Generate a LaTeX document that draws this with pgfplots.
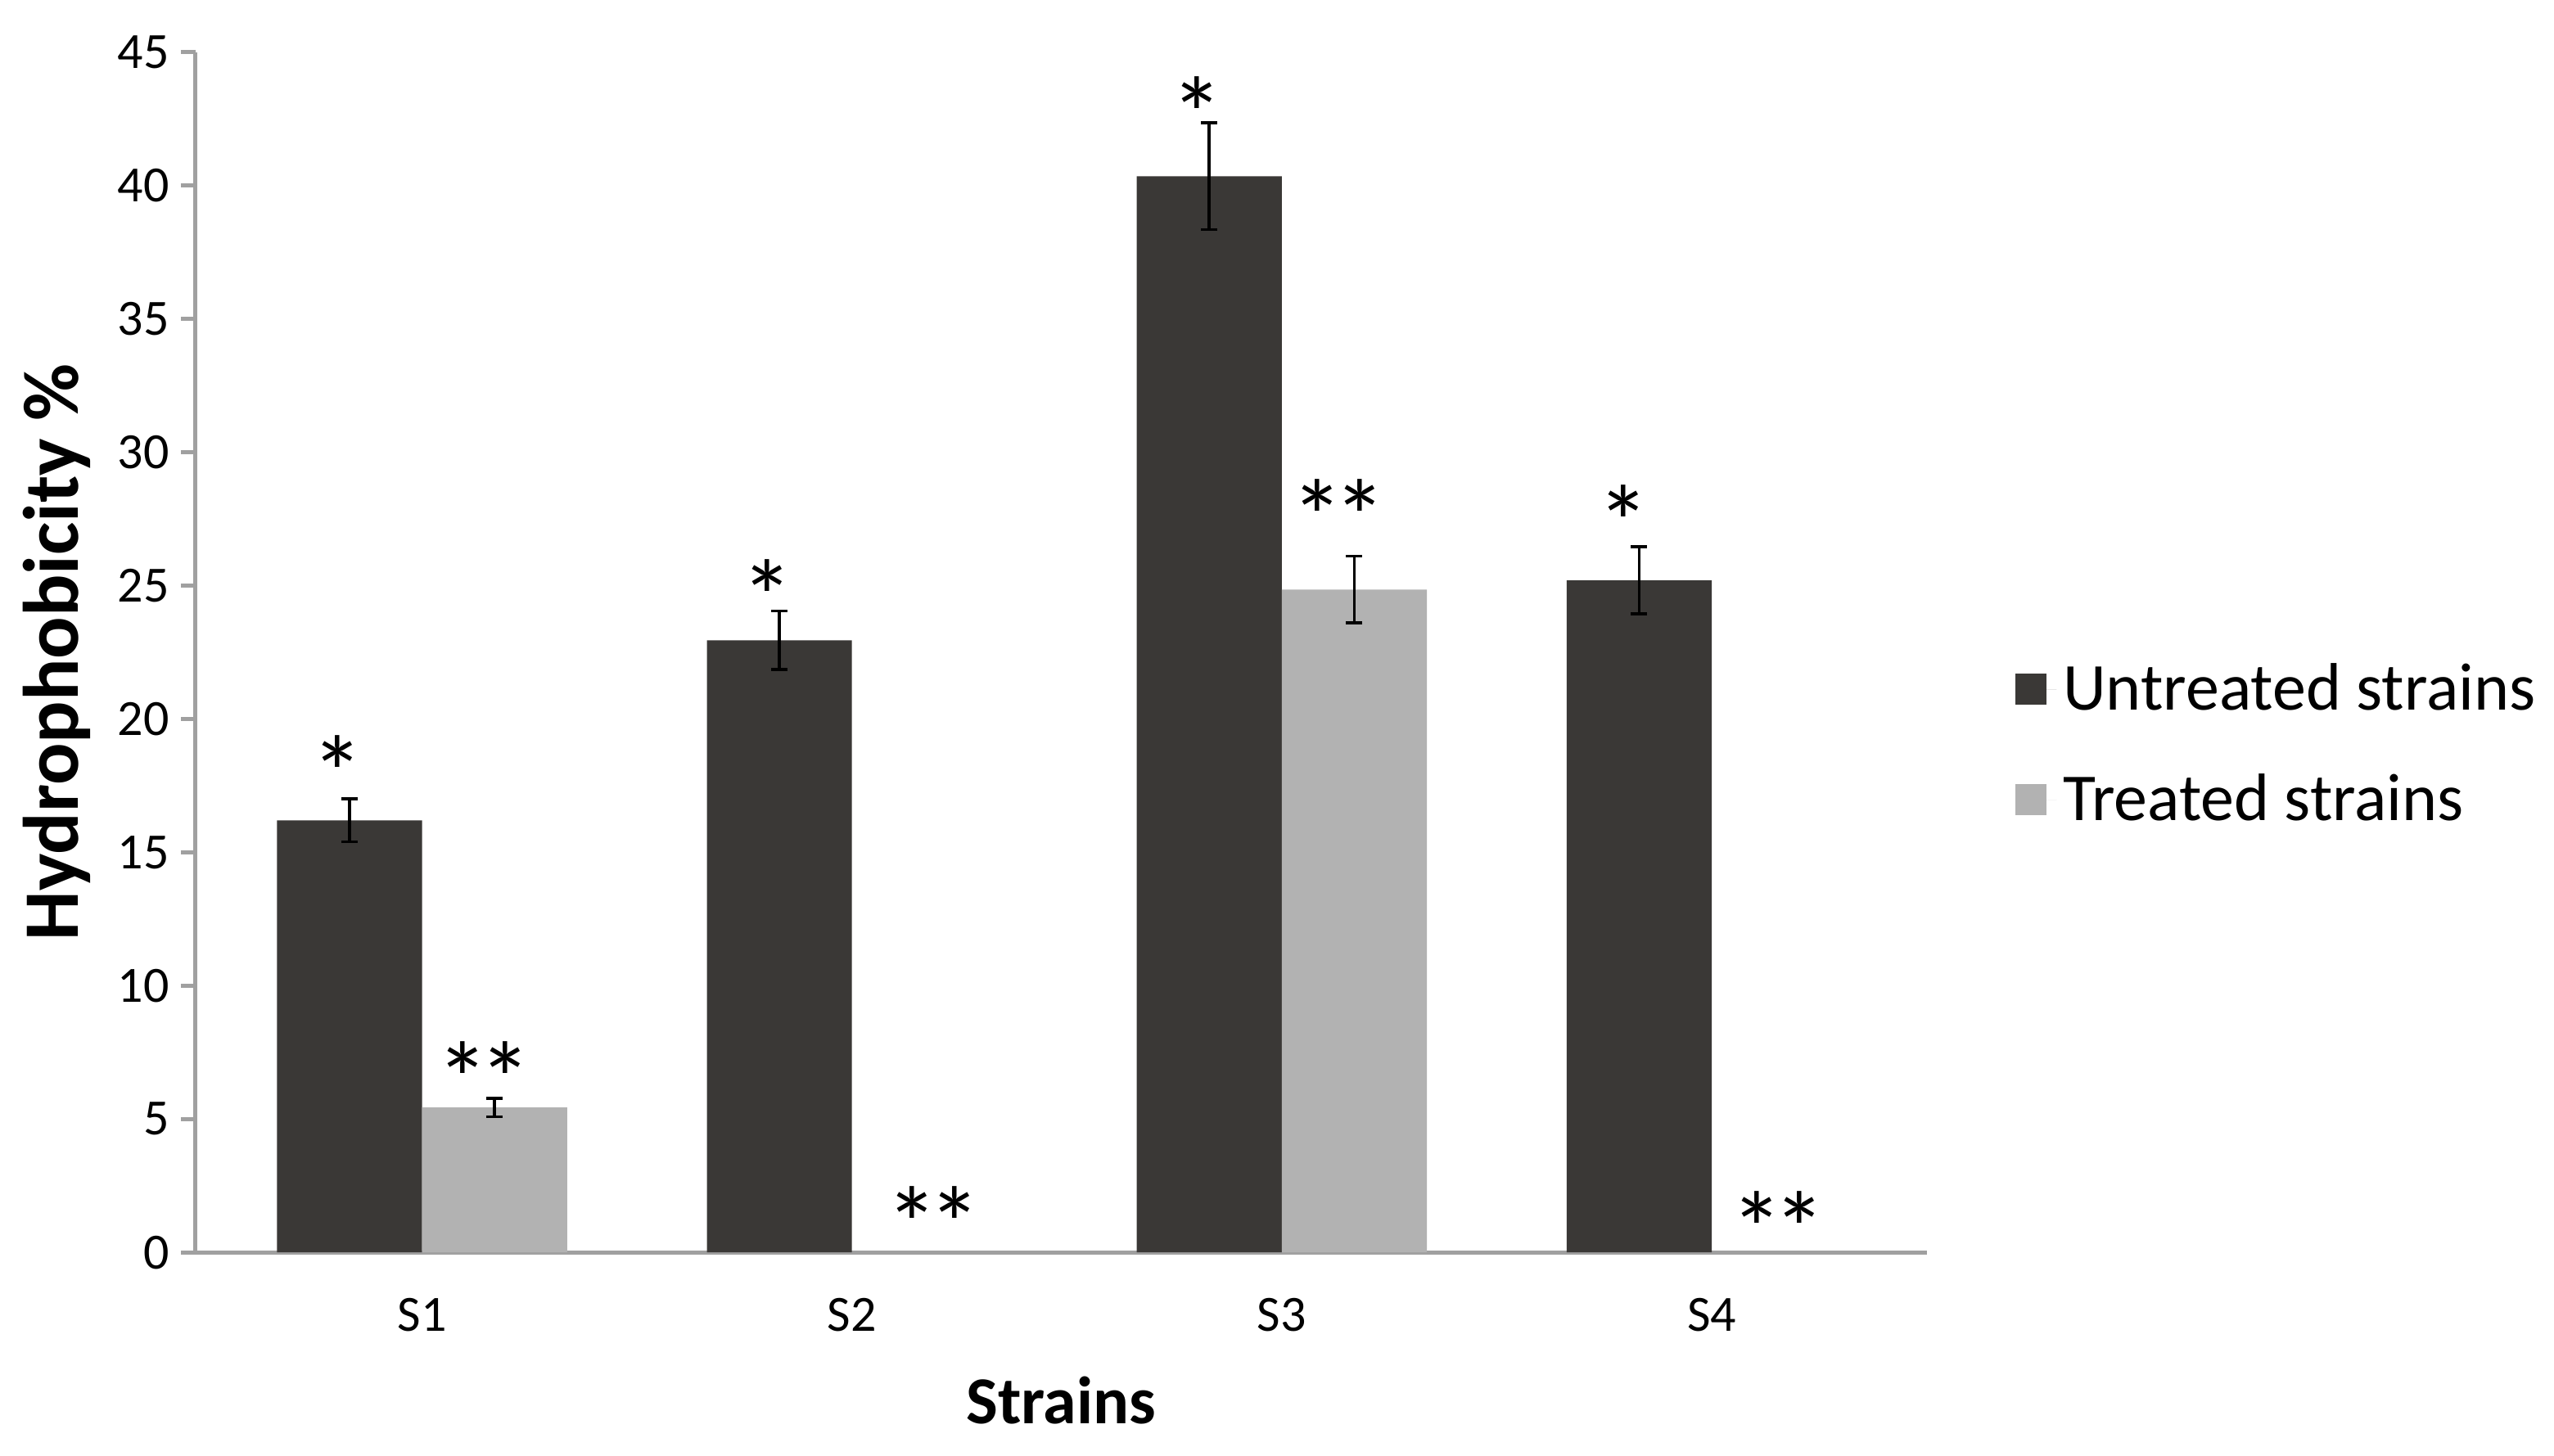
\documentclass[border=0pt]{standalone}
\usepackage{fontspec}
\setmainfont{Carlito}
\usepackage{pgfplots}
\pgfplotsset{compat=1.18}
\definecolor{darkbar}{RGB}{58,56,54}
\definecolor{lightbar}{RGB}{178,178,178}
\definecolor{axgray}{RGB}{160,160,160}
\newcommand{\dstar}{*\kern-3pt*}
\begin{document}
\begin{tikzpicture}
\useasboundingbox (0,0) rectangle (780pt,444.75pt);
\begin{axis}[
 at={(59.7pt,62.2pt)}, anchor=south west,
 scale only axis, width=528.7pt, height=366.6pt,
 xmin=-0.527, xmax=3.5, ymin=0, ymax=45,
 ybar=0pt, bar width=44.3pt,
 axis x line=bottom, axis y line=left,
 axis line style={axgray, line width=1.2pt, -},
 xtick={0,1,2,3}, xticklabels={S1,S2,S3,S4},
 x tick style={draw=none},
 ytick={0,5,...,45},
 y tick style={axgray, line width=1.2pt},
 tick align=outside, major tick length=4.5pt,
 tick label style={font=\fontsize{15.5}{18}\selectfont, text=black},
 /pgf/number format/assume math mode=true,
 xticklabel style={yshift=-6pt},
 ylabel={Hydrophobicity \%}, xlabel={Strains},
 xlabel style={font=\bfseries\fontsize{20.5}{24}\selectfont, at={(axis description cs:0.5,-0.1235)}, anchor=center},
 ylabel style={font=\bfseries\fontsize{24}{28}\selectfont, at={(axis description cs:-0.08,0.5)}, anchor=center},
 legend style={at={(axis description cs:1.051,0.423)}, anchor=west, draw=none,
   inner sep=0pt, font=\fontsize{20.5}{24}\selectfont, row sep=14pt},
 legend cell align=left,
 legend image code/.code={\fill[#1] (0pt,-4.75pt) rectangle (9.5pt,4.75pt); \path (0pt,0pt) -- (12.5pt,0pt);},
]
\addplot[fill=darkbar, draw=none,
  error bars/.cd, y dir=both, y explicit,
  error bar style={black, line width=0.9pt},
  error mark options={rotate=90, black, mark size=2.5pt, line width=0.9pt}]
  coordinates {(0,16.2) +- (0,0.8) (1,22.95) +- (0,1.1) (2,40.35) +- (0,2.0) (3,25.2) +- (0,1.25)};
\addplot[fill=lightbar, draw=none,
  error bars/.cd, y dir=both, y explicit,
  error bar style={black, line width=0.9pt},
  error mark options={rotate=90, black, mark size=2.5pt, line width=0.9pt}]
  coordinates {(0,5.43) +- (0,0.35) (2,24.85) +- (0,1.25)};
\legend{Untreated strains, Treated strains}
\begin{scope}[every node/.style={font=\fontsize{32}{36}\selectfont, inner sep=0pt, anchor=north}]
\node at (axis cs:-0.197,19.4) {*};
\node at (axis cs:0.144,7.93) {\dstar};
\node at (axis cs:0.803,26.0) {*};
\node at (axis cs:1.189,2.49) {\dstar};
\node at (axis cs:1.803,44.1) {*};
\node at (axis cs:2.133,29.0) {\dstar};
\node at (axis cs:2.795,28.8) {*};
\node at (axis cs:3.155,2.31) {\dstar};
\end{scope}
\end{axis}
\end{tikzpicture}
\end{document}
